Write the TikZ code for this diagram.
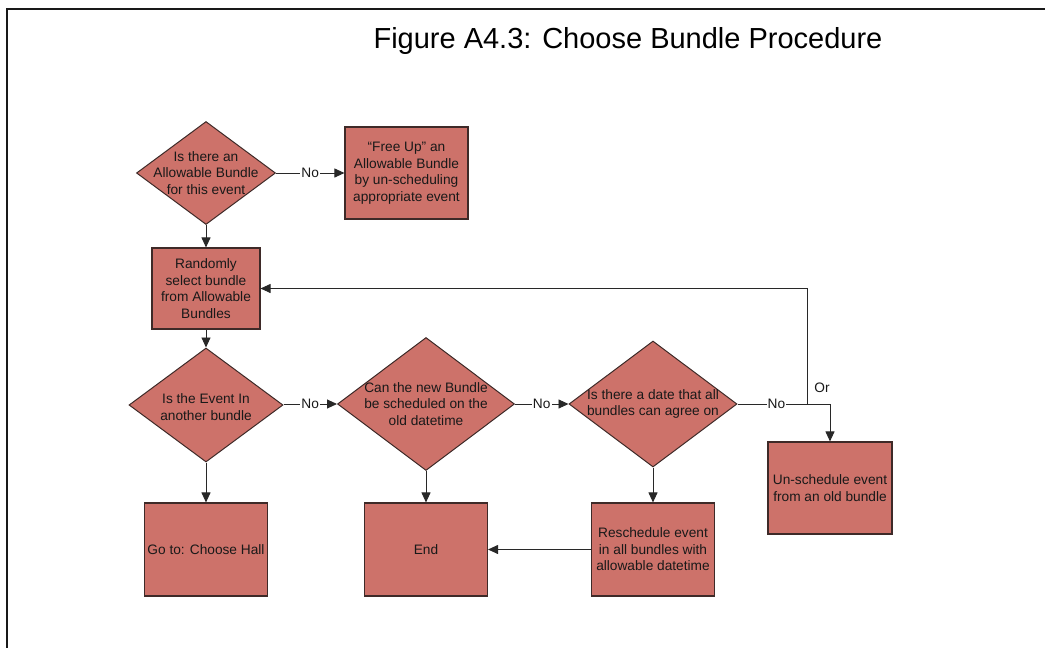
\documentclass[tikz,border=0pt]{standalone}
\usepackage{fontspec}
\setmainfont{Liberation Sans}
\usetikzlibrary{shapes.geometric,arrows.meta}
\definecolor{boxfill}{RGB}{205,114,106}
\definecolor{boxline}{RGB}{62,42,40}
\definecolor{connc}{RGB}{40,40,40}
\tikzset{
  lbl/.style={font=\fontsize{13.7}{16.5}\selectfont, align=center, text=black!90, inner sep=0pt},
  procbox/.style={rectangle, draw=boxline, fill=boxfill, line width=1.1pt, lbl},
  decision/.style={diamond, draw=boxline, fill=boxfill, line width=1pt, inner sep=0pt},
  conn/.style={draw=connc, line width=0.9pt, -{Triangle[length=10pt,width=9pt]}},
  plainline/.style={draw=connc, line width=0.9pt},
  nolbl/.style={fill=white, inner sep=1pt, font=\fontsize{13.7}{16.5}\selectfont, text=black!90}
}
\begin{document}
\begin{tikzpicture}[x=1pt,y=-1pt]
\useasboundingbox (0,0) rectangle (1045,648);
% frame
\draw[line width=1.8pt, black!90] (7,648) -- (7,9) -- (1045,9);
% title
\node[font=\fontsize{29}{34}\selectfont, anchor=base, inner sep=0pt] (title) at (628,48) {Figure A4.3: Choose Bundle Procedure};

% decisions
\node[decision, minimum width=139pt, minimum height=103pt] (d1) at (206,173) {};
\node[lbl] (d1t) at (d1) {Is there an\\Allowable Bundle\\for this event};
\node[decision, minimum width=154pt, minimum height=114pt] (d2) at (206,405) {};
\node[lbl] (d2t) at (206,407) {Is the Event In\\another bundle};
\node[decision, minimum width=177pt, minimum height=133pt] (d3) at (426,404) {};
\node[lbl] (d3t) at (d3) {Can the new Bundle\\be scheduled on the\\old datetime};
\node[decision, minimum width=168pt, minimum height=126pt] (d4) at (653,404) {};
\node[lbl] (d4t) at (d4) {Is there a date that all\\bundles can agree on};

% boxes
\node[procbox, minimum width=123pt, minimum height=92pt] (free) at (406.5,173) {“Free Up” an\\Allowable Bundle\\by un-scheduling\\appropriate event};
\node[procbox, minimum width=108pt, minimum height=81pt] (rand) at (206,288.5) {Randomly\\select bundle\\from Allowable\\Bundles};
\node[procbox, minimum width=124pt, minimum height=92pt] (unsch) at (830,488) {Un-schedule event\\from an old bundle};
\node[procbox, minimum width=123pt, minimum height=93pt] (goto) at (206,549.5) {Go to: Choose Hall};
\node[procbox, minimum width=123pt, minimum height=93pt] (end) at (426,549.5) {End};
\node[procbox, minimum width=123pt, minimum height=93pt] (resch) at (653,549.5) {Reschedule event\\in all bundles with\\allowable datetime};

% connectors
\draw[conn] (d1.east) -- node[nolbl]{No} (free.west);
\draw[conn] (d1.south) -- (rand.north);
\draw[conn] (rand.south) -- (d2.north);
\draw[conn] (d3.west -| d2.east) -- node[nolbl]{No} (d3.west);
\draw[conn] (d3.east) -- node[nolbl]{No} (d4.west);
\coordinate (j) at (807,404);
\draw[plainline] (d4.east) -- node[nolbl, pos=0.56]{No} (j);
\draw[conn] (j) |- (rand.east);
\draw[conn] (j) -| (unsch.north);
\node[nolbl, fill=none] (or) at (822,388) {Or};
\draw[conn] (d2.south) -- (goto.north);
\draw[conn] (d3.south) -- (end.north);
\draw[conn] (d4.south) -- (resch.north);
\draw[conn] (resch.west) -- (end.east);
\end{tikzpicture}
\end{document}
